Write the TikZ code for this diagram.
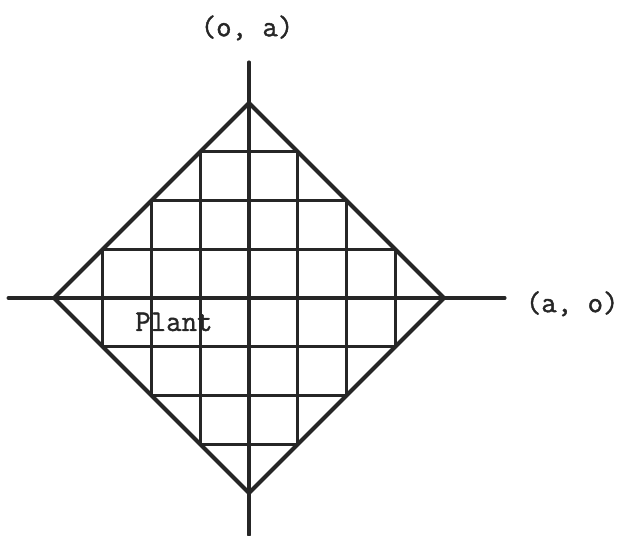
\documentclass[tikz,border=0pt]{standalone}
\usepackage{fontspec}
\newfontfamily\typerfont[FakeBold=1.4]{Latin Modern Mono}
\usepackage{tikz}
\begin{document}
\begin{tikzpicture}[x=1cm,y=1cm,line cap=round,line join=round,
  gridline/.style={black!85,line width=1.9pt},
  rimline/.style={black!85,line width=2.3pt},
  axislabel/.style={font=\typerfont\fontsize{17.5}{17.5}\selectfont,text=black!85,inner sep=0pt}]
  \useasboundingbox (-5.108,-4.862) rectangle (7.672,6.113);
  \coordinate (top) at (0,4);
  \coordinate (right) at (4,0);
  \coordinate (bottom) at (0,-4);
  \coordinate (left) at (-4,0);
  \coordinate (vaxis-top) at (0,4.84);
  \coordinate (vaxis-bot) at (0,-4.86);
  \coordinate (haxis-left) at (-4.94,0);
  \coordinate (haxis-right) at (5.25,0);
  \foreach \k in {1,2,3}{
    \pgfmathsetmacro{\r}{4-\k}
    \draw[gridline] (\k,-\r) -- (\k,\r);
    \draw[gridline] (-\k,-\r) -- (-\k,\r);
    \draw[gridline] (-\r,\k) -- (\r,\k);
    \draw[gridline] (-\r,-\k) -- (\r,-\k);
  }
  \draw[rimline] (top) -- (right) -- (bottom) -- (left) -- cycle;
  \draw[gridline] (vaxis-bot) -- (vaxis-top);
  \draw[gridline] (haxis-left) -- (haxis-right);
  \node[axislabel] (ylabel) at (-0.04,5.54) {(o, a)};
  \node[axislabel] (xlabel) at (6.63,-0.12) {(a, o)};
  \node[axislabel] (plant) at (-1.54,-0.49) {Plant};
\end{tikzpicture}
\end{document}
